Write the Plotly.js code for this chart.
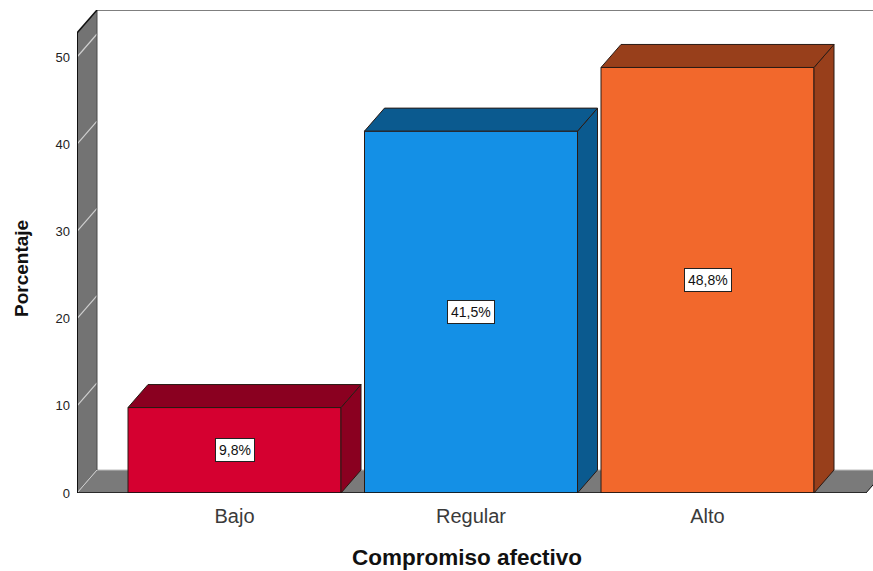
<!DOCTYPE html>
<html>
<head>
<meta charset="utf-8">
<script src="https://cdn.plot.ly/plotly-3.0.1.min.js"></script>
<style>html,body{margin:0;padding:0;background:#fff;}#chart{width:873px;height:571px;}</style>
</head>
<body>
<div id="chart"></div>
<script>
// ---- data ----
var categories = ["Bajo", "Regular", "Alto"];
var values = [9.8, 41.5, 48.8];
var labels = ["9,8%", "41,5%", "48,8%"];
var frontColors = ["#d50030", "#1490e6", "#f2682c"];
var sideColors = ["#8a0020", "#0b5a8f", "#983f1b"];
var yTicks = [0, 10, 20, 30, 40, 50];
var xTitle = "Compromiso afectivo";
var yTitle = "Porcentaje";

// ---- geometry (axis space) ----
var W = 873, H = 571;
var M = {l: 77, r: 0, t: 10, b: 78};
var plotW = W - M.l - M.r, plotH = H - M.t - M.b;
var xMin = -0.666, xMax = xMin + plotW / 236.5;
var yMax = plotH / 8.72;
var dx = 20 * (xMax - xMin) / plotW;   // depth offset in x units
var dy = 23 * yMax / plotH;            // depth offset in y units
var barW = 0.9006;
var wallTop = yMax - dy;
var floorRight = 2.670;
var xs = categories.map(function (c, i) { return i; });
var FONT = "Liberation Sans, Arial, sans-serif";

var traces = [];
// front faces
traces.push({
  type: "bar", x: xs, y: values, width: barW,
  marker: {color: frontColors, line: {color: "#2a1a14", width: 1}},
  hoverinfo: "skip", showlegend: false
});
// top and side faces
values.forEach(function (v, i) {
  var L = i - barW / 2, R = i + barW / 2;
  traces.push({
    type: "scatter", mode: "lines", fill: "toself", fillcolor: sideColors[i],
    x: [R, R + dx, R + dx, R, R], y: [0, dy, v + dy, v, 0],
    line: {color: "#2a1a14", width: 1}, hoverinfo: "skip", showlegend: false
  });
  traces.push({
    type: "scatter", mode: "lines", fill: "toself", fillcolor: sideColors[i],
    x: [L, R, R + dx, L + dx, L], y: [v, v, v + dy, v + dy, v],
    line: {color: "#2a1a14", width: 1}, hoverinfo: "skip", showlegend: false
  });
});

var shapes = [];
// left wall
shapes.push({type: "path", layer: "below", xref: "x", yref: "y",
  path: "M" + xMin + "," + 0 + " L" + (xMin + dx) + "," + dy + " L" + (xMin + dx) + "," + yMax +
        " L" + xMin + "," + wallTop + " Z",
  fillcolor: "#737373", line: {width: 0}});
// floor
shapes.push({type: "path", layer: "below", xref: "x", yref: "y",
  path: "M" + xMin + "," + 0 + " L" + floorRight + "," + 0 + " L" + (floorRight + dx) + "," + dy +
        " L" + (xMin + dx) + "," + dy + " Z",
  fillcolor: "#7a7a7a", line: {width: 0}});
// wall grid lines
yTicks.slice(1).forEach(function (t) {
  shapes.push({type: "line", layer: "below", xref: "x", yref: "y",
    x0: xMin, y0: t, x1: xMin + dx, y1: t + dy, line: {color: "#d0d0d0", width: 1.2}});
});
// floor back edge / wall back edge highlights
shapes.push({type: "line", layer: "below", xref: "x", yref: "y",
  x0: xMin + dx, y0: dy, x1: floorRight + dx, y1: dy, line: {color: "#bdbdbd", width: 1}});
shapes.push({type: "line", layer: "below", xref: "x", yref: "y",
  x0: xMin + dx, y0: dy, x1: xMin + dx, y1: yMax, line: {color: "#4a4a4a", width: 1}});
shapes.push({type: "line", layer: "below", xref: "x", yref: "y",
  x0: xMin, y0: 0, x1: xMin + dx, y1: dy, line: {color: "#d0d0d0", width: 1}});
// back wall top edge
shapes.push({type: "line", layer: "below", xref: "x", yref: "y",
  x0: xMin + dx, y0: yMax, x1: xMax, y1: yMax, line: {color: "#555555", width: 1.5}});
// wall front edge and top diagonal
shapes.push({type: "line", layer: "above", xref: "x", yref: "y",
  x0: xMin, y0: 0, x1: xMin, y1: wallTop, line: {color: "#111111", width: 2}});
shapes.push({type: "line", layer: "above", xref: "x", yref: "y",
  x0: xMin, y0: wallTop, x1: xMin + dx, y1: yMax, line: {color: "#111111", width: 1.5}});
// floor front edge
shapes.push({type: "line", layer: "above", xref: "x", yref: "y",
  x0: xMin, y0: 0, x1: floorRight, y1: 0, line: {color: "#111111", width: 1.5}});
shapes.push({type: "line", layer: "below", xref: "x", yref: "y",
  x0: floorRight, y0: 0, x1: floorRight + dx, y1: dy, line: {color: "#111111", width: 1}});

var annotations = values.map(function (v, i) {
  return {xref: "x", yref: "y", x: i, y: v / 2, text: labels[i], showarrow: false,
    font: {family: FONT, size: 14, color: "#111"},
    bgcolor: "#ffffff", bordercolor: "#222222", borderwidth: 1, borderpad: 3};
});
// axis titles
annotations.push({xref: "paper", yref: "paper", x: (467 - M.l) / plotW, y: (H - M.b - 557) / plotH,
  xanchor: "center", yanchor: "middle", showarrow: false, text: "<b>" + xTitle + "</b>",
  font: {family: FONT, size: 22.5, color: "#111"}});
annotations.push({xref: "paper", yref: "paper", x: (22 - M.l) / plotW, y: (H - M.b - 269) / plotH,
  xanchor: "center", yanchor: "middle", showarrow: false, textangle: -90, text: "<b>" + yTitle + "</b>",
  font: {family: FONT, size: 19, color: "#111"}});

var layout = {
  width: W, height: H,
  margin: M,
  paper_bgcolor: "#ffffff", plot_bgcolor: "#ffffff",
  bargap: 0, showlegend: false,
  font: {family: FONT, color: "#222"},
  xaxis: {
    range: [xMin, xMax], tickvals: xs, ticktext: categories,
    showgrid: false, zeroline: false, showline: false, ticks: "",
    ticklabelstandoff: 9, automargin: false, fixedrange: true,
    tickfont: {size: 20, color: "#3a3a3a"}
  },
  yaxis: {
    range: [0, yMax], tickvals: yTicks, ticktext: yTicks.map(String),
    showgrid: false, zeroline: false, showline: false, ticks: "",
    ticklabelstandoff: 6, automargin: false, fixedrange: true,
    tickfont: {size: 13, color: "#222"}
  },
  shapes: shapes,
  annotations: annotations
};

Plotly.newPlot("chart", traces, layout, {displayModeBar: false, staticPlot: true});
</script>
</body>
</html>
